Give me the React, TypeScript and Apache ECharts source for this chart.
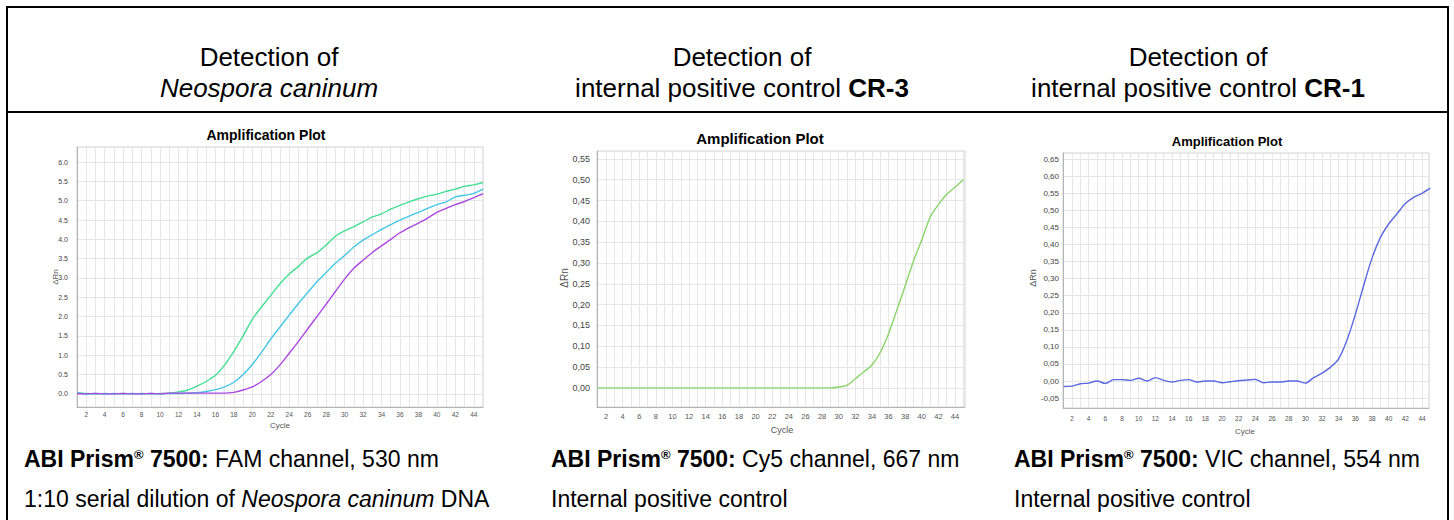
import React, { useEffect, useRef } from "react";
import * as echarts from "echarts";

const cycles = [1,2,3,4,5,6,7,8,9,10,11,12,13,14,15,16,17,18,19,20,21,22,23,24,25,26,27,28,29,30,31,32,33,34,35,36,37,38,39,40,41,42,43,44,45];

// Panel 1: FAM, three dilutions
const famHigh = [0.03,0.01,0.0,0.01,0.0,0.01,0.0,0.01,0.0,0.01,0.02,0.05,0.1,0.2,0.32,0.48,0.75,1.1,1.5,1.93,2.25,2.55,2.85,3.1,3.3,3.52,3.65,3.85,4.08,4.22,4.33,4.45,4.58,4.66,4.78,4.88,4.97,5.05,5.12,5.17,5.24,5.3,5.37,5.41,5.47];
const famMid = [0.02,0.0,0.01,0.0,0.01,0.0,0.01,0.0,0.01,0.0,0.01,0.01,0.02,0.03,0.06,0.11,0.18,0.3,0.5,0.76,1.08,1.42,1.73,2.04,2.34,2.62,2.9,3.14,3.38,3.58,3.8,3.98,4.12,4.26,4.38,4.5,4.6,4.7,4.8,4.9,4.97,5.1,5.14,5.19,5.3];
const famLow = [0.01,0.0,0.01,0.0,0.0,0.01,0.0,0.0,0.01,0.0,0.02,0.02,0.02,0.02,0.02,0.02,0.02,0.04,0.1,0.18,0.32,0.5,0.75,1.05,1.36,1.68,2.0,2.32,2.65,2.97,3.25,3.46,3.66,3.83,4.0,4.17,4.3,4.42,4.55,4.7,4.8,4.9,4.98,5.08,5.18];

// Panel 2: Cy5 internal control CR-3
const cy5 = [0.0,0.0,0.0,0.0,0.0,0.0,0.0,0.0,0.0,0.0,0.0,0.0,0.0,0.0,0.0,0.0,0.0,0.0,0.0,0.0,0.0,0.0,0.0,0.0,0.0,0.0,0.0,0.0,0.0,0.002,0.006,0.022,0.038,0.055,0.085,0.13,0.187,0.245,0.305,0.355,0.41,0.44,0.465,0.482,0.5];

// Panel 3: VIC internal control CR-1
const vic = [-0.016,-0.015,-0.008,-0.006,0.0,-0.007,0.004,0.004,0.002,0.008,0.0,0.01,0.002,-0.003,0.002,0.004,-0.003,0.0,0.0,-0.005,-0.002,0.001,0.003,0.005,-0.005,-0.003,-0.003,0.0,0.0,-0.006,0.01,0.023,0.04,0.065,0.12,0.195,0.28,0.36,0.42,0.46,0.49,0.52,0.538,0.55,0.565];

const xLabelTicks = [2,4,6,8,10,12,14,16,18,20,22,24,26,28,30,32,34,36,38,40,42,44];
const yTicks1 = [0,0.5,1,1.5,2,2.5,3,3.5,4,4.5,5,5.5,6];
const yTicks2 = [0,0.05,0.1,0.15,0.2,0.25,0.3,0.35,0.4,0.45,0.5,0.55];
const yTicks3 = [-0.05,0,0.05,0.1,0.15,0.2,0.25,0.3,0.35,0.4,0.45,0.5,0.55,0.6,0.65];

const FONT = "'Liberation Sans', Arial, sans-serif";

function pairs(arr: number[]) {
  return cycles.map((c, i) => [c, arr[i]]);
}

export default function App() {
  const ref = useRef<HTMLDivElement>(null);
  useEffect(() => {
    if (!ref.current) return;
    const chart = echarts.init(ref.current, undefined, { renderer: "svg" });

    const grids = [
      { left: 77, top: 147, width: 406, height: 260 },
      { left: 597, top: 151, width: 368, height: 256 },
      { left: 1063, top: 153, width: 366, height: 255 },
    ];
    const xRanges = [[1, 45], [0.92, 45.2], [0.92, 44.84]];
    const yRanges = [[-0.34, 6.39], [-0.046, 0.569], [-0.079, 0.668]];
    const yTicks = [yTicks1, yTicks2, yTicks3];
    const labelFont = [7, 9, 8];
    const xLabelFont = [6.5, 7.5, 6.5];
    const yLabelMargin = [9, 7, 4];
    const xLabelMargin = [4, 5, 7];

    const xAxis = grids.map((_, i) => ({
      type: "value",
      gridIndex: i,
      min: xRanges[i][0],
      max: xRanges[i][1],
      axisLine: { show: true, onZero: false, lineStyle: { color: "#b5b5b5", width: 1 } },
      axisTick: { show: false, customValues: cycles },
      axisLabel: {
        customValues: xLabelTicks,
        fontSize: xLabelFont[i],
        color: "#555",
        fontFamily: FONT,
        margin: xLabelMargin[i],
      },
      splitLine: { show: true, lineStyle: { color: "#e6e6e6", width: 1 } },
    }));

    const yAxis = grids.map((_, i) => ({
      type: "value",
      gridIndex: i,
      min: yRanges[i][0],
      max: yRanges[i][1],
      axisLine: { show: true, onZero: false, lineStyle: { color: "#b5b5b5", width: 1 } },
      axisTick: { show: false, customValues: yTicks[i] },
      axisLabel: {
        customValues: yTicks[i],
        fontSize: labelFont[i],
        color: "#444",
        fontFamily: FONT,
        margin: yLabelMargin[i],
        formatter: (v: number) =>
          i === 0 ? v.toFixed(1) : v.toFixed(2).replace(".", ","),
      },
      splitLine: { show: true, lineStyle: { color: "#e6e6e6", width: 1 } },
    }));

    const mkLine = (data: number[], color: string, gi: number) => ({
      type: "line",
      xAxisIndex: gi,
      yAxisIndex: gi,
      data: pairs(data),
      showSymbol: false,
      symbol: "none",
      smooth: 0.3,
      lineStyle: { color, width: 1.4 },
    });

    const HS = 26;
    const FS = 23;
    const hRich = {
      r: { fontSize: HS, fontFamily: FONT, color: "#000" },
      i: { fontSize: HS, fontFamily: FONT, fontStyle: "italic", color: "#000" },
      b: { fontSize: HS, fontFamily: FONT, fontWeight: "bold", color: "#000" },
    };
    const fRich = {
      r: { fontSize: FS, fontFamily: FONT, color: "#000" },
      i: { fontSize: FS, fontFamily: FONT, fontStyle: "italic", color: "#000" },
      b: { fontSize: FS, fontFamily: FONT, fontWeight: "bold", color: "#000" },
      s: { fontSize: 13, fontFamily: FONT, fontWeight: "bold", color: "#000", verticalAlign: "top", padding: [0, 0, 9, 0] },
    };

    const header = (x: number, line2: string) => [
      {
        type: "text",
        x,
        y: 57,
        style: {
          text: "Detection of",
          font: `${HS}px ${FONT}`,
          fill: "#000",
          align: "center",
          verticalAlign: "middle",
        },
      },
      {
        type: "text",
        x,
        y: 88,
        style: {
          text: line2,
          rich: hRich,
          fill: "#000",
          align: "center",
          verticalAlign: "middle",
        },
      },
    ];

    const footer = (x: number, l1: string, l2: string) => [
      { type: "text", x, y: 459, style: { text: l1, rich: fRich, verticalAlign: "middle" } },
      { type: "text", x, y: 499, style: { text: l2, rich: fRich, verticalAlign: "middle" } },
    ];

    const plotTitle = (x: number, y: number, size: number) => ({
      type: "text",
      x,
      y,
      style: {
        text: "Amplification Plot",
        font: `bold ${size}px ${FONT}`,
        fill: "#000",
        align: "center",
        verticalAlign: "middle",
      },
    });
    const axisName = (x: number, y: number, text: string, size: number, rot = 0) => ({
      type: "text",
      x,
      y,
      rotation: rot,
      style: {
        text,
        font: `${size}px ${FONT}`,
        fill: "#555",
        align: "center",
        verticalAlign: "middle",
      },
    });

    const border = { stroke: "#000", lineWidth: 2 };

    const option: any = {
      animation: false,
      backgroundColor: "#fff",
      grid: grids.map((g) => ({
        ...g,
        show: true,
        borderColor: "#d0d0d0",
        borderWidth: 1,
        backgroundColor: "#fff",
      })),
      xAxis,
      yAxis,
      series: [
        mkLine(famHigh, "#45de92", 0),
        mkLine(famMid, "#45c6e6", 0),
        mkLine(famLow, "#aa48e2", 0),
        mkLine(cy5, "#88d46a", 1),
        mkLine(vic, "#5a68e0", 2),
      ],
      graphic: [
        { type: "line", shape: { x1: 7, y1: 7, x2: 1448, y2: 7 }, style: border },
        { type: "line", shape: { x1: 7, y1: 6, x2: 7, y2: 520 }, style: border },
        { type: "line", shape: { x1: 1448, y1: 6, x2: 1448, y2: 520 }, style: border },
        { type: "line", shape: { x1: 7, y1: 112, x2: 1448, y2: 112 }, style: border },
        ...header(269, "{i|Neospora caninum}"),
        ...header(742, "{r|internal positive control }{b|CR-3}"),
        ...header(1198, "{r|internal positive control }{b|CR-1}"),
        plotTitle(266, 135, 14),
        plotTitle(760, 138, 15),
        plotTitle(1227, 141, 13),
        axisName(280, 425, "Cycle", 8),
        axisName(782, 430, "Cycle", 9),
        axisName(1245, 431, "Cycle", 8),
        axisName(55, 277, "ΔRn", 8, Math.PI / 2),
        axisName(564, 278, "ΔRn", 10, Math.PI / 2),
        axisName(1033, 278, "ΔRn", 9, Math.PI / 2),
        ...footer(24, "{b|ABI Prism}{s|®}{b| 7500:}{r| FAM channel, 530 nm}", "{r|1:10 serial dilution of }{i|Neospora caninum}{r| DNA}"),
        ...footer(551, "{b|ABI Prism}{s|®}{b| 7500:}{r| Cy5 channel, 667 nm}", "{r|Internal positive control}"),
        ...footer(1014, "{b|ABI Prism}{s|®}{b| 7500:}{r| VIC channel, 554 nm}", "{r|Internal positive control}"),
      ],
    };
    chart.setOption(option);
    return () => chart.dispose();
  }, []);

  return (
    <div
      ref={ref}
      style={{ position: "absolute", left: 0, top: 0, width: 1454, height: 520, background: "#fff" }}
    />
  );
}
